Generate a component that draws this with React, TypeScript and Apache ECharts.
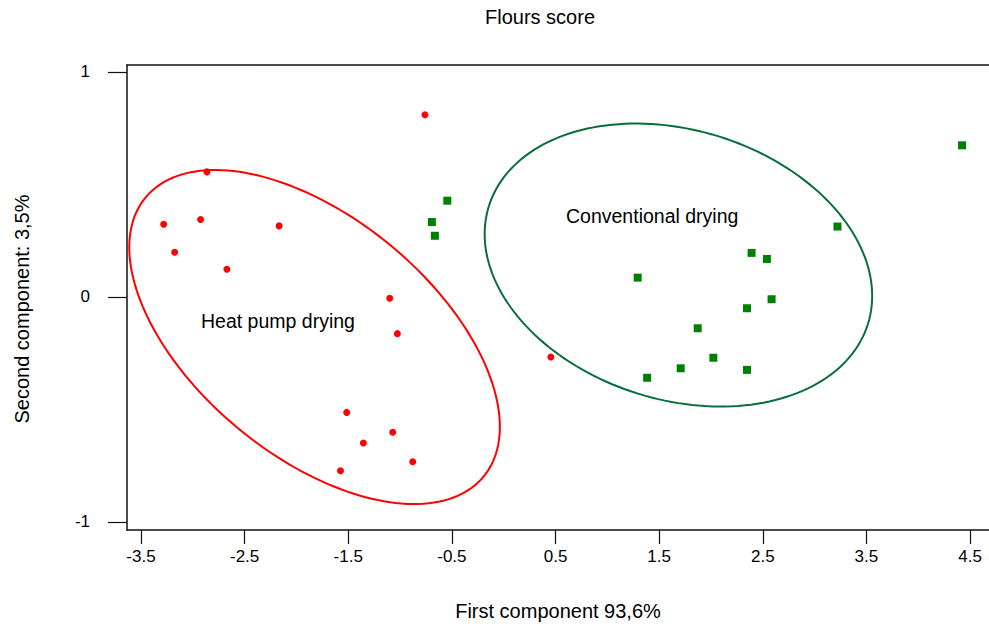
import React, { useEffect, useRef } from "react";
import * as echarts from "echarts";

const xTicks = [-3.5, -2.5, -1.5, -0.5, 0.5, 1.5, 2.5, 3.5, 4.5];
const yTicks = [-1, 0, 1];

// Heat pump drying scores (first, second component)
const heatPumpX = [-0.76, -2.864, -3.281, -2.925, -2.167, -3.175, -2.671, -1.1, -1.026, 0.455, -1.515, -1.071, -1.354, -0.878, -1.575];
const heatPumpY = [0.81, 0.556, 0.323, 0.344, 0.316, 0.199, 0.123, -0.006, -0.163, -0.267, -0.513, -0.601, -0.649, -0.732, -0.772];

// Conventional drying scores
const convX = [-0.544, -0.693, -0.664, 4.423, 3.221, 2.392, 2.54, 1.293, 2.585, 2.348, 1.872, 2.023, 1.708, 2.348, 1.384];
const convY = [0.428, 0.333, 0.272, 0.674, 0.313, 0.196, 0.169, 0.086, -0.01, -0.05, -0.139, -0.27, -0.317, -0.324, -0.359];

// Confidence ellipses: [centerX, centerY, varX, varY, covXY]
const heatPumpEllipse = [-1.825, -0.178, 3.197, 0.5509, -0.7128];
const convEllipse = [1.686, 0.142, 3.496, 0.3955, -0.257];

const groupNames = ["Heat pump drying", "Conventional drying"];

function ellipseRenderer(color: string) {
  return (params: any, api: any) => {
    const cx = api.value(0);
    const cy = api.value(1);
    const sxx = api.value(2);
    const syy = api.value(3);
    const sxy = api.value(4);
    const a = Math.sqrt(sxx);
    const c = sxy / a;
    const d = Math.sqrt(Math.max(syy - c * c, 0));
    const pts: number[][] = [];
    const n = 180;
    for (let i = 0; i < n; i++) {
      const t = (i / n) * Math.PI * 2;
      pts.push(api.coord([cx + a * Math.cos(t), cy + c * Math.cos(t) + d * Math.sin(t)]));
    }
    return {
      type: "polygon",
      shape: { points: pts },
      style: { fill: "transparent", stroke: color, lineWidth: 2 },
      silent: true,
    };
  };
}

export default function App() {
  const ref = useRef<HTMLDivElement>(null);
  useEffect(() => {
    if (!ref.current) return;
    const chart = echarts.init(ref.current, undefined, { renderer: "svg" });
    const font = "Liberation Sans, Arial, sans-serif";
    chart.setOption({
      animation: false,
      backgroundColor: "#ffffff",
      textStyle: { fontFamily: font },
      title: {
        text: "Flours score",
        left: 485,
        top: 7,
        padding: 0,
        textStyle: { fontSize: 20, fontWeight: "normal", color: "#000", fontFamily: font },
      },
      grid: { left: 127, right: 0, top: 65, bottom: 96, containLabel: false },
      xAxis: [
        {
          type: "value",
          min: -3.635,
          max: 4.683,
          position: "bottom",
          name: "First component 93,6%",
          nameLocation: "middle",
          nameGap: 71,
          nameTextStyle: { fontSize: 20, color: "#000", fontFamily: font },
          splitLine: { show: false },
          axisLine: { show: true, onZero: false, lineStyle: { color: "#111", width: 1.5 } },
          axisTick: { show: true, length: 14, customValues: xTicks, lineStyle: { color: "#111", width: 1.2 } },
          axisLabel: { customValues: xTicks, margin: 18, fontSize: 17, color: "#000", fontFamily: font },
        },
        {
          type: "value",
          min: -3.635,
          max: 4.683,
          position: "top",
          splitLine: { show: false },
          axisLine: { show: true, onZero: false, lineStyle: { color: "#111", width: 1.5 } },
          axisTick: { show: false },
          axisLabel: { show: false },
        },
      ],
      yAxis: {
        type: "value",
        min: -1.0356,
        max: 1.031,
        name: "Second component: 3,5%",
        nameLocation: "middle",
        nameGap: 95,
        nameRotate: 90,
        nameTextStyle: { fontSize: 20, color: "#000", fontFamily: font, padding: [0, 23, 0, 0] },
        splitLine: { show: false },
        axisLine: { show: true, onZero: false, lineStyle: { color: "#111", width: 1.5 } },
        axisTick: { show: true, length: 19, customValues: yTicks, lineStyle: { color: "#111", width: 1.2 } },
        axisLabel: { customValues: yTicks, margin: 37, fontSize: 17, color: "#000", fontFamily: font },
      },
      series: [
        {
          name: groupNames[0] + " ellipse",
          type: "custom",
          renderItem: ellipseRenderer("#ff0000"),
          data: [heatPumpEllipse],
          encode: { x: 0, y: 1 },
          clip: true,
          z: 1,
        },
        {
          name: groupNames[1] + " ellipse",
          type: "custom",
          renderItem: ellipseRenderer("#0a6e3a"),
          data: [convEllipse],
          encode: { x: 0, y: 1 },
          clip: true,
          z: 1,
        },
        {
          name: groupNames[0],
          type: "scatter",
          symbol: "circle",
          symbolSize: 7,
          itemStyle: { color: "#ff0000", opacity: 1 },
          data: heatPumpX.map((x, i) => [x, heatPumpY[i]]),
          z: 3,
        },
        {
          name: groupNames[1],
          type: "scatter",
          symbol: "rect",
          symbolSize: 8,
          itemStyle: { color: "#008000", opacity: 1 },
          data: convX.map((x, i) => [x, convY[i]]),
          z: 3,
        },
      ],
      graphic: [
        {
          type: "text",
          left: 201,
          top: 311,
          style: { text: groupNames[0], fontSize: 19.5, fill: "#000", font: "19.5px " + font },
        },
        {
          type: "text",
          left: 566,
          top: 206,
          style: { text: groupNames[1], fontSize: 19.5, fill: "#000", font: "19.5px " + font },
        },
      ],
    });
    return () => chart.dispose();
  }, []);
  return (
    <div
      ref={ref}
      style={{ position: "fixed", left: 0, top: 0, width: 989, height: 626, background: "#fff" }}
    />
  );
}
